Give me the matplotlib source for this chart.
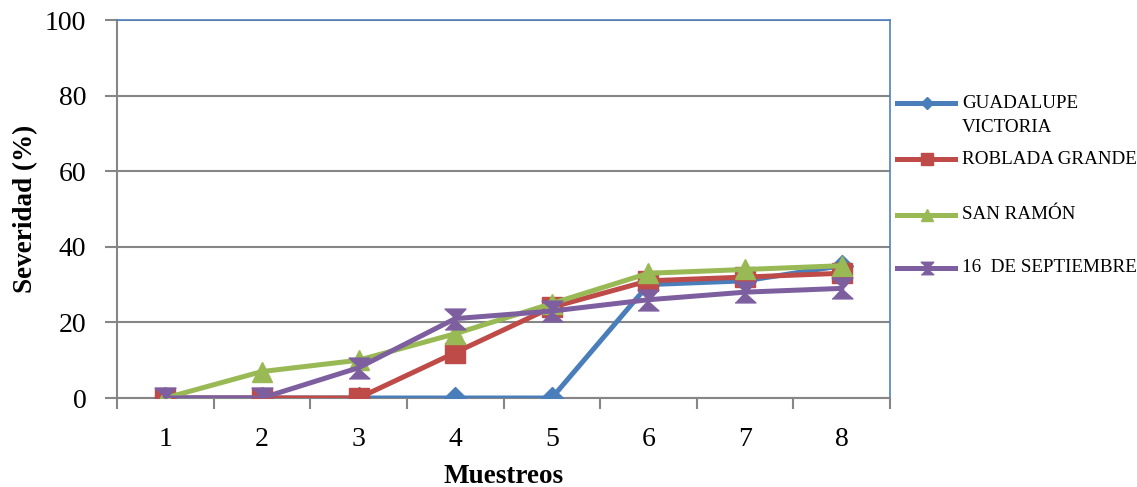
import matplotlib
matplotlib.use("Agg")
import matplotlib.pyplot as plt
from matplotlib.lines import Line2D

muestreos = [1, 2, 3, 4, 5, 6, 7, 8]
series_names = ["GUADALUPE\nVICTORIA", "ROBLADA GRANDE", "SAN RAMÓN", "16  DE SEPTIEMBRE"]
guadalupe = [0, 0, 0, 0, 0, 30, 31, 35]
roblada = [0, 0, 0, 12, 24, 31, 32, 33]
san_ramon = [0, 7, 10, 17, 25, 33, 34, 35]
septiembre = [0, 0, 8, 21, 23, 26, 28, 29]
yticks = [0, 20, 40, 60, 80, 100]

colors = ["#4A7EBB", "#BE4B48", "#98B954", "#7D5FA0"]
hourglass = [(-1, -1), (1, -1), (0, -0.1), (1, 1), (-1, 1), (0, 0.1)]
markers = ["D", "s", "^", hourglass]
msizes = [11, 14, 15, 15]

plt.rcParams["font.family"] = ["Liberation Serif", "DejaVu Serif"]

W, H = 1137, 487
fig = plt.figure(figsize=(W / 100, H / 100), dpi=100)
ax = fig.add_axes([117 / W, 1 - 398 / H, (890 - 117) / W, (398 - 20) / H])

xs = list(range(len(muestreos)))
data = [guadalupe, roblada, san_ramon, septiembre]
for vals, c, m, ms in zip(data, colors, markers, msizes):
    ax.plot(xs, vals, color=c, lw=3.6, marker=m, ms=ms, zorder=3)

ax.set_xlim(-0.5, len(muestreos) - 0.5)
ax.set_ylim(0, 100)
ax.set_yticks(yticks)
ax.set_xticks(xs)
ax.set_xticklabels([str(m) for m in muestreos])
ax.set_xticks([i - 0.5 for i in range(len(muestreos) + 1)], minor=True)
ax.tick_params(axis="x", which="major", length=0, labelsize=20, pad=21)
ax.tick_params(axis="x", which="minor", length=8, color="#868686", width=1.5)
ax.tick_params(axis="y", length=9, color="#868686", width=1.5, labelsize=20, pad=13)
ax.yaxis.grid(True, color="#868686", lw=1.5)
ax.set_axisbelow(True)

for s in ["top", "right"]:
    ax.spines[s].set_color("#4F81BD")
    ax.spines[s].set_linewidth(1.2)
for s in ["left", "bottom"]:
    ax.spines[s].set_color("#868686")
    ax.spines[s].set_linewidth(1.5)

ax.set_ylabel("Severidad (%)", fontsize=19.5, fontweight="bold")
ax.set_xlabel("Muestreos", fontsize=19.5, fontweight="bold")
ax.yaxis.set_label_coords(-79 / 773, 0.5)
ax.xaxis.set_label_coords(0.5, -66 / 378)

# legend drawn in figure pixels: one row per series, handle line with marker
legend_rows = [103, 159, 215, 268]
for y, c, m, ms, name in zip(legend_rows, colors, markers, msizes, series_names):
    fy = 1 - y / H
    fig.add_artist(Line2D([897 / W, 955 / W], [fy, fy], color=c, lw=3.6,
                          transform=fig.transFigure))
    fig.add_artist(Line2D([927 / W], [fy], color=c, marker=m, ms=ms * 0.6,
                          transform=fig.transFigure))
    for k, line in enumerate(name.split("\n")):
        fig.text(962 / W, 1 - (y + 25 * k) / H, line, fontsize=13.7,
                 va="center", ha="left")

fig.savefig("out.png", dpi=100)
